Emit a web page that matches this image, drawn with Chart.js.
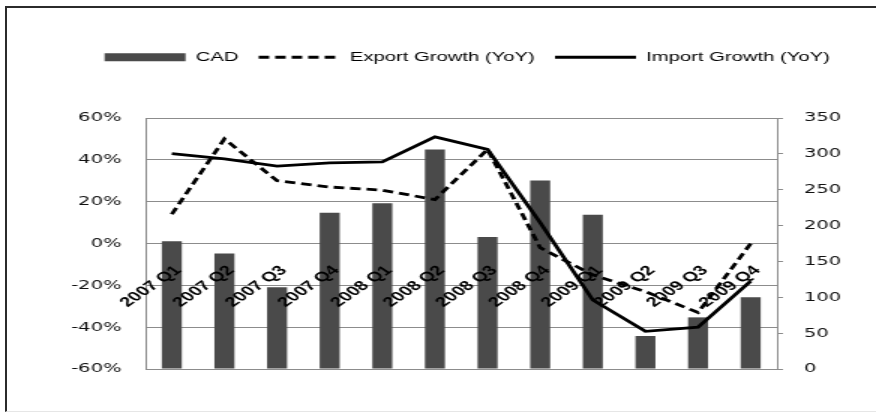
<!DOCTYPE html>
<html>
<head>
<meta charset="utf-8">
<script src="https://cdn.jsdelivr.net/npm/chart.js@4.4.1/dist/chart.umd.min.js"></script>
<style>
  html, body { margin: 0; padding: 0; background: #fff; overflow: hidden; }
  body { width: 876px; height: 414px; position: relative; }
  .frame {
    position: absolute; left: 5px; top: 6px; right: -10px; bottom: 2px;
    border-left: 2px solid #2b2b2b; border-top: 2px solid #2b2b2b; border-bottom: 1px solid #e6e6e6;
  }
  /* chart is laid out narrow and widened, like the pasted office chart */
  .stretch { position: absolute; left: 0; top: 0; width: 584px; height: 414px; transform: scaleX(1.5); transform-origin: 0 0; }
</style>
</head>
<body>
<div class="frame"></div>
<div class="stretch"><canvas id="growthChart" width="584" height="414"></canvas></div>
<script>
const quarters = ["2007 Q1", "2007 Q2", "2007 Q3", "2007 Q4", "2008 Q1", "2008 Q2",
  "2008 Q3", "2008 Q4", "2009 Q1", "2009 Q2", "2009 Q3", "2009 Q4"]
const cad = [178, 161, 114, 218, 231, 306, 184, 263, 215, 46, 72, 100]
const exportGrowth = [14, 50, 30, 27, 25.5, 21, 45, -2, -15, -23, -33, 0]
const importGrowth = [43, 40.5, 37, 38.5, 39, 51, 45, 10, -27, -42, -40, -18]
const pctTicks = [-60, -40, -20, 0, 20, 40, 60]
const cadTicks = [0, 50, 100, 150, 200, 250, 300, 350]

const gridGrey = "#8c8c8c"
const tickFont = { family: "'DejaVu Sans', sans-serif", size: 13 }

// legend sits well above the plot, so pad its box
const legendSpacer = {
  id: "legendSpacer",
  beforeInit(chart) {
    const fit = chart.legend.fit
    chart.legend.fit = function () {
      fit.call(this)
      this.height += 44
    }
  },
}

const ctx = document.getElementById("growthChart").getContext("2d")
new Chart(ctx, {
  data: {
    labels: quarters,
    datasets: [
      {
        type: "bar",
        label: "CAD",
        data: cad,
        yAxisID: "yCad",
        backgroundColor: "#4a4a4a",
        borderWidth: 0,
        barPercentage: 0.38,
        categoryPercentage: 1,
        pointStyle: "rect",
        order: 2,
      },
      {
        type: "line",
        label: "Export Growth (YoY)",
        data: exportGrowth,
        yAxisID: "y",
        borderColor: "#000",
        backgroundColor: "#000",
        borderWidth: 2.8,
        borderDash: [7, 4],
        pointRadius: 0,
        tension: 0,
        pointStyle: "line",
        order: 1,
      },
      {
        type: "line",
        label: "Import Growth (YoY)",
        data: importGrowth,
        yAxisID: "y",
        borderColor: "#000",
        backgroundColor: "#000",
        borderWidth: 2.8,
        pointRadius: 0,
        tension: 0,
        pointStyle: "line",
        order: 1,
      },
    ],
  },
  options: {
    responsive: false,
    animation: false,
    layout: { padding: { top: 37, bottom: 45, left: 39, right: 0 } },
    plugins: {
      tooltip: { enabled: false },
      legend: {
        position: "top",
        labels: {
          usePointStyle: true,
          pointStyleWidth: 54,
          boxHeight: 8,
          padding: 13.5,
          color: "#000",
          font: { family: "'Liberation Sans', sans-serif", size: 13.5 },
          sort: (a, b) => a.datasetIndex - b.datasetIndex,
          generateLabels(chart) {
            const items = Chart.defaults.plugins.legend.labels.generateLabels(chart)
            items.forEach((item) => {
              const ds = chart.data.datasets[item.datasetIndex]
              item.pointStyle = ds.pointStyle
              item.lineDash = ds.borderDash || []
              item.lineWidth = ds.type === "bar" ? 0 : ds.borderWidth
              item.strokeStyle = ds.borderColor
            })
            return items
          },
        },
      },
    },
    scales: {
      x: {
        type: "category",
        position: { y: 0 },
        grid: { display: false },
        border: { display: false },
        ticks: {
          z: 1,
          minRotation: 45,
          maxRotation: 45,
          autoSkip: false,
          padding: 11,
          labelOffset: 4.5,
          color: "#000",
          font: { family: "'Liberation Sans', sans-serif", size: 13.5, weight: "bold" },
        },
      },
      y: {
        position: "left",
        min: pctTicks[0],
        max: pctTicks[pctTicks.length - 1],
        afterBuildTicks: (scale) => { scale.ticks = pctTicks.map((v) => ({ value: v })) },
        afterFit: (scale) => { scale.width = 58 },
        grid: { color: gridGrey, lineWidth: 1, drawTicks: false },
        border: { display: true, color: gridGrey },
        ticks: {
          padding: 16,
          color: "#111",
          font: tickFont,
          callback: (v) => v + "%",
        },
      },
      yCad: {
        position: "right",
        min: cadTicks[0],
        max: cadTicks[cadTicks.length - 1],
        afterBuildTicks: (scale) => { scale.ticks = cadTicks.map((v) => ({ value: v })) },
        afterFit: (scale) => { scale.width = 66 },
        grid: { drawOnChartArea: false, drawTicks: true, tickLength: 4, color: gridGrey },
        border: { display: true, color: gridGrey },
        ticks: {
          padding: 14,
          color: "#111",
          font: tickFont,
        },
      },
    },
  },
  plugins: [legendSpacer],
})
</script>
</body>
</html>
